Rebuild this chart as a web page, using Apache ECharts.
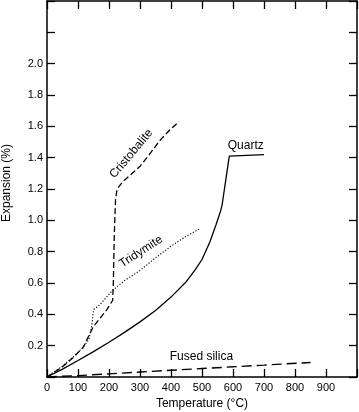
<!DOCTYPE html>
<html><head><meta charset="utf-8">
<script src="https://cdn.jsdelivr.net/npm/echarts@6/dist/echarts.min.js"></script>
<style>html,body{margin:0;padding:0;background:#fff}#c{width:359px;height:412px}</style>
</head><body><div id="c"></div>
<script>
// Data: [temperature °C, expansion %]
const quartz = [[0,0],[50,0.05],[100,0.105],[150,0.162],[200,0.222],[250,0.285],[300,0.352],[350,0.425],[400,0.51],[450,0.61],[480,0.69],[500,0.75],[525,0.86],[545,0.97],[560,1.06],[565,1.1],[588,1.41],[700,1.42]];
const cristobalite = [[0,0],[50,0.065],[85,0.125],[117,0.19],[149,0.32],[192,0.427],[212,0.49],[214,0.6],[217,0.9],[221,1.13],[226,1.2],[246,1.25],[275,1.3],[300,1.345],[330,1.42],[364,1.51],[400,1.585],[426,1.63]];
const tridymite = [[0,0],[50,0.07],[85,0.13],[117,0.19],[135,0.24],[144,0.32],[150,0.43],[170,0.46],[212,0.554],[250,0.615],[300,0.68],[350,0.76],[400,0.835],[450,0.9],[494,0.947]];
const fusedSilica = [[0,0],[100,0.009],[200,0.02],[300,0.032],[400,0.043],[500,0.054],[600,0.065],[700,0.076],[850,0.093]];
const xTicks = [0,100,200,300,400,500,600,700,800,900];
const yTicks = ['0.2','0.4','0.6','0.8','1.0','1.2','1.4','1.6','1.8','2.0'];
const curveLabels = [
  {name:'Cristobalite', at:[272,1.425], rotate:50},
  {name:'Tridymite', at:[303,0.80], rotate:33},
  {name:'Quartz', at:[641,1.478], rotate:0},
  {name:'Fused silica', at:[498,0.129], rotate:0}
];
const font = 'Liberation Sans, Arial, sans-serif';
const chart = echarts.init(document.getElementById('c'));
function lbl(name){
  const l = curveLabels.find(c=>c.name===name);
  return {symbol:'rect', symbolSize:1, silent:true, itemStyle:{color:'rgba(0,0,0,0)'},
    data:[{coord:l.at, value:name,
      label:{show:true, position:'inside', formatter:name, rotate:l.rotate, color:'#000', fontSize:12, fontFamily:font}}]};
}
const axisCommon = () => ({axisLine:{show:true, onZero:false, lineStyle:{color:'#000', width:1.5}}, axisTick:{show:true, inside:true, length:8, lineStyle:{color:'#000', width:1.3}}, splitLine:{show:false}});
chart.setOption({
  animation:false,
  backgroundColor:'#fff',
  grid:{left:47, right:2, top:1, bottom:35, containLabel:false, outerBoundsMode:'none'},
  xAxis:[
    Object.assign({type:'value', min:0, max:1000, interval:100, position:'bottom',
      name:'Temperature (°C)', nameLocation:'middle', nameGap:21,
      nameTextStyle:{color:'#000', fontSize:12, fontFamily:font},
      axisLabel:{color:'#000', fontSize:11, fontFamily:font, margin:5,
        formatter:v=>xTicks.includes(v)?String(v):''}}, axisCommon()),
    Object.assign({type:'value', min:0, max:1000, interval:100, position:'top', axisLabel:{show:false}}, axisCommon())
  ],
  yAxis:[
    Object.assign({type:'value', min:0, max:2.4, interval:0.2, position:'left',
      name:'Expansion (%)', nameLocation:'middle', nameGap:34,
      nameTextStyle:{color:'#000', fontSize:12, fontFamily:font, padding:[0,0,0,12]},
      axisLabel:{color:'#000', fontSize:11, fontFamily:font, margin:4,
        formatter:v=>{const s=v.toFixed(1); return yTicks.includes(s)?s:'';}}}, axisCommon()),
    Object.assign({type:'value', min:0, max:2.4, interval:0.2, position:'right', axisLabel:{show:false}}, axisCommon())
  ],
  series:[
    {name:'Quartz', type:'line', data:quartz, symbol:'none',
      lineStyle:{color:'#000', width:1.3, type:'solid'}, markPoint:lbl('Quartz')},
    {name:'Cristobalite', type:'line', data:cristobalite, symbol:'none',
      lineStyle:{color:'#000', width:1.3, type:[6,3]}, markPoint:lbl('Cristobalite')},
    {name:'Tridymite', type:'line', data:tridymite, symbol:'none',
      lineStyle:{color:'#000', width:1.1, type:[1.2,1.8]}, markPoint:lbl('Tridymite')},
    {name:'Fused silica', type:'line', data:fusedSilica, symbol:'none',
      lineStyle:{color:'#000', width:1.4, type:[10,5]}, markPoint:lbl('Fused silica')}
  ]
});
</script></body></html>
